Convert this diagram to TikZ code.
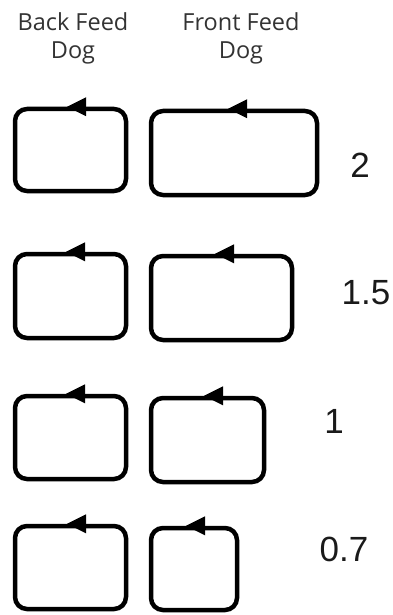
\documentclass[tikz,border=0pt]{standalone}
\usepackage{fontspec}
\setmainfont{Open Sans}
\newfontfamily\numfont{Liberation Sans}
\definecolor{headgray}{HTML}{333333}
\definecolor{numgray}{HTML}{1A1A1A}
\begin{document}
\begin{tikzpicture}[x=1pt,y=-1pt,
  loopbox/.style={draw=black, line width=4.5pt, rounded corners=12pt, inner sep=0pt},
  headtext/.style={align=center, inner sep=0pt, anchor=north, text=headgray,
    font=\fontsize{23.5}{28.5}\selectfont},
  numtext/.style={inner sep=0pt, text=numgray, font=\numfont\fontsize{35}{35}\selectfont},
  tiphead/.style={fill=black}]
\useasboundingbox (0,0) rectangle (393,615);
% headers
\node[headtext] (hback) at (73,12) {Back Feed\\Dog};
\node[headtext] (hfront) at (241,12) {Front Feed\\Dog};
% row 1
\node[loopbox, minimum width=111pt, minimum height=82pt] (b1) at (70.5,150) {};
\node[loopbox, minimum width=166pt, minimum height=84pt] (f1) at (234,153) {};
% row 2
\node[loopbox, minimum width=111pt, minimum height=84pt] (b2) at (70.5,296) {};
\node[loopbox, minimum width=141pt, minimum height=84pt] (f2) at (221.5,298) {};
% row 3
\node[loopbox, minimum width=111pt, minimum height=83pt] (b3) at (70.5,437.5) {};
\node[loopbox, minimum width=113pt, minimum height=84pt] (f3) at (207.5,440) {};
% row 4
\node[loopbox, minimum width=111pt, minimum height=83pt] (b4) at (70.5,567.5) {};
\node[loopbox, minimum width=86pt, minimum height=82pt] (f4) at (194,569) {};
% arrowheads (tip points left, on top edge)
\foreach \bx/\tx in {b1/67,f1/228,b2/66,f2/215,b3/66,f3/204,b4/67,f4/186}{
  \path (\bx.north -| \tx,0) coordinate (t-\bx);
  \fill[tiphead] (t-\bx) -- ++(19,-9.5) -- ++(0,19) -- cycle;
}
% labels
\node[numtext] (n1) at (360,165) {2};
\node[numtext] (n2) at (366,293) {1.5};
\node[numtext] (n3) at (334,421) {1};
\node[numtext] (n4) at (344,549) {0.7};
\end{tikzpicture}
\end{document}
